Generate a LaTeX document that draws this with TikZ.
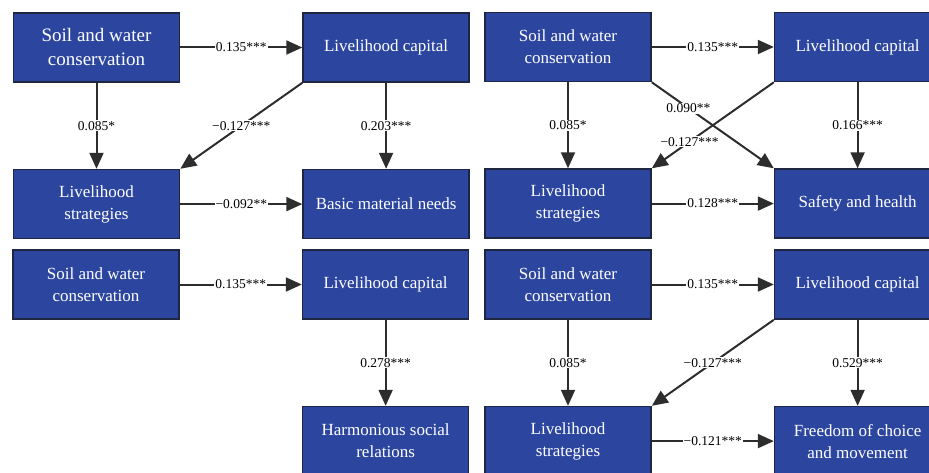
\documentclass[tikz,border=0pt]{standalone}
\usepackage{fontspec}
\setmainfont{Liberation Serif}
\usetikzlibrary{arrows.meta, positioning}
\definecolor{boxblue}{RGB}{44,70,160}
\definecolor{boxedge}{RGB}{30,38,66}
\definecolor{linegray}{RGB}{45,45,45}

\begin{document}
\begin{tikzpicture}[
  x=1pt, y=1pt,
  node distance=86pt and 122pt,
  var/.style={rectangle, draw=boxedge, fill=boxblue, line width=1.6pt, minimum width=166pt, minimum height=69pt, align=center, text=white, font=\fontsize{17}{22}\selectfont},
  coef/.style={fill=white, inner sep=1pt, text=black, font=\fontsize{13.5}{15}\selectfont},
  arrow/.style={-{Triangle[length=16pt,width=14pt]}, line width=2pt, draw=linegray}
]
\useasboundingbox (0,0) rectangle (929,-473);

% basic material needs
\node[var, font=\fontsize{19}{24}\selectfont] (swc1) at (96.5,-47.5) {Soil and water\\conservation};
\node[var, right=of swc1] (cap1) {Livelihood capital};
\node[var, below=of swc1] (strat1) {Livelihood\\strategies};
\node[var, below=of cap1] (need1) {Basic material needs};

\draw[arrow] (swc1) -- node[coef] {0.135***} (cap1);
\draw[arrow] (swc1) -- node[coef] {0.085*} (strat1);
\draw[arrow] (cap1.south west) -- node[coef] {−0.127***} (strat1.north east);
\draw[arrow] (cap1) -- node[coef] {0.203***} (need1);
\draw[arrow] (strat1) -- node[coef] {−0.092**} (need1);

% safety and health
\node[var] (swc2) at (568,-47) {Soil and water\\conservation};
\node[var, right=of swc2] (cap2) {Livelihood capital};
\node[var, below=of swc2] (strat2) {Livelihood\\strategies};
\node[var, below=of cap2] (safe2) {Safety and health};

\draw[arrow] (swc2) -- node[coef] {0.135***} (cap2);
\draw[arrow] (swc2) -- node[coef] {0.085*} (strat2);
\draw[arrow] (swc2.south east) -- node[coef, pos=0.3] {0.090**} (safe2.north west);
\draw[arrow] (cap2.south west) -- node[coef, pos=0.69] {−0.127***} (strat2.north east);
\draw[arrow] (cap2) -- node[coef] {0.166***} (safe2);
\draw[arrow] (strat2) -- node[coef] {0.128***} (safe2);

% harmonious social relations
\node[var] (swc3) at (96,-284.5) {Soil and water\\conservation};
\node[var, right=of swc3] (cap3) {Livelihood capital};
\node[var, below=of cap3] (soc3) {Harmonious social\\relations};

\draw[arrow] (swc3) -- node[coef] {0.135***} (cap3);
\draw[arrow] (cap3) -- node[coef] {0.278***} (soc3);

% freedom of choice
\node[var] (swc4) at (568,-284.5) {Soil and water\\conservation};
\node[var, right=of swc4] (cap4) {Livelihood capital};
\node[var, below=of swc4] (strat4) {Livelihood\\strategies};
\node[var, below=of cap4] (free4) {Freedom of choice\\and movement};

\draw[arrow] (swc4) -- node[coef] {0.135***} (cap4);
\draw[arrow] (swc4) -- node[coef] {0.085*} (strat4);
\draw[arrow] (cap4.south west) -- node[coef] {−0.127***} (strat4.north east);
\draw[arrow] (cap4) -- node[coef] {0.529***} (free4);
\draw[arrow] (strat4) -- node[coef] {−0.121***} (free4);

\end{tikzpicture}
\end{document}
